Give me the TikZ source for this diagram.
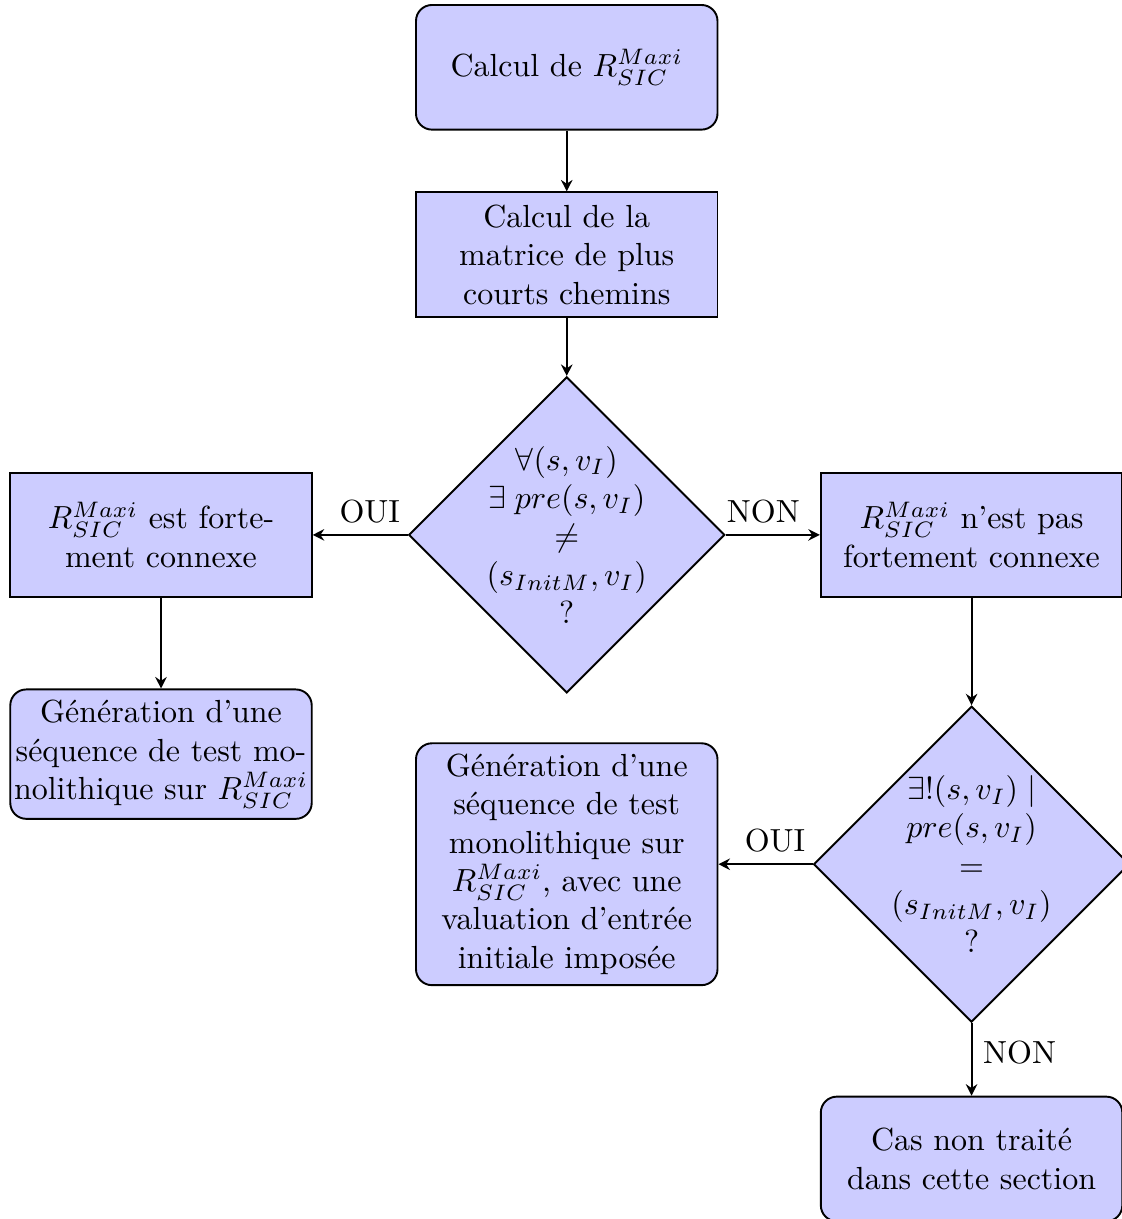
\documentclass[tikz,border=0pt]{standalone}
\usepackage{tikz}
\usetikzlibrary{shapes.geometric,arrows.meta}

\tikzset{
  boite/.style={draw,semithick,fill=blue!20,text width=3.08cm,align=center,minimum height=1.37cm},
  boiteronde/.style={boite,rounded corners=5pt},
  decision/.style={draw,semithick,fill=blue!20,diamond,aspect=1,align=center,inner sep=-1.7pt},
  fleche/.style={semithick,-{Stealth[length=3.6pt,width=3.6pt,inset=1.2pt]}},
  etiq/.style={pos=0.4}
}

\begin{document}
\begin{tikzpicture}[scale=1]
\useasboundingbox (-6.23,-7.52) rectangle (6.10,5.88);
\node[boiteronde] (calcul) at (0,5.14) {Calcul de $R^{Maxi}_{SIC}$};
\node[boite] (matrice) at (0,3.08) {Calcul de la matrice de plus courts chemins};
\node[decision] (test1) at (0,0) {$\forall(s,v_I)$\\ $\exists\; pre(s,v_I)$\\ $\neq$\\ $(s_{InitM},v_I)$\\ ?};
\node[boite] (connexe) at (-4.46,0) {$R^{Maxi}_{SIC}$ est fortement connexe};
\node[boite] (nonconnexe) at (4.45,0) {$R^{Maxi}_{SIC}$ n'est pas fortement connexe};
\node[boiteronde,text width={},minimum width=3.314cm,inner xsep=0pt] (mono) at (-4.46,-2.41) {G\'en\'eration d'une\\ s\'equence de test mo-\\ nolithique sur $R^{Maxi}_{SIC}$};
\node[decision] (test2) at (4.45,-3.62) {$\exists!(s,v_I)\mid$\\ $pre(s,v_I)$\\ $=$\\ $(s_{InitM},v_I)$\\ ?};
\node[boiteronde] (monoinit) at (0,-3.62) {G\'en\'eration d'une s\'equence de test monolithique sur $R^{Maxi}_{SIC}$, avec une valuation d'entr\'ee initiale impos\'ee};
\node[boiteronde] (cas) at (4.45,-6.86) {Cas non trait\'e dans cette section};
\draw[fleche] (calcul)--(matrice);
\draw[fleche] (matrice)--(test1);
\draw[fleche] (test1)--node[etiq,above]{OUI}(connexe);
\draw[fleche] (test1)--node[etiq,above]{NON}(nonconnexe);
\draw[fleche] (connexe)--(mono);
\draw[fleche] (nonconnexe)--(test2);
\draw[fleche] (test2)--node[etiq,above]{OUI}(monoinit);
\draw[fleche] (test2)--node[etiq,right]{NON}(cas);
\end{tikzpicture}
\end{document}
